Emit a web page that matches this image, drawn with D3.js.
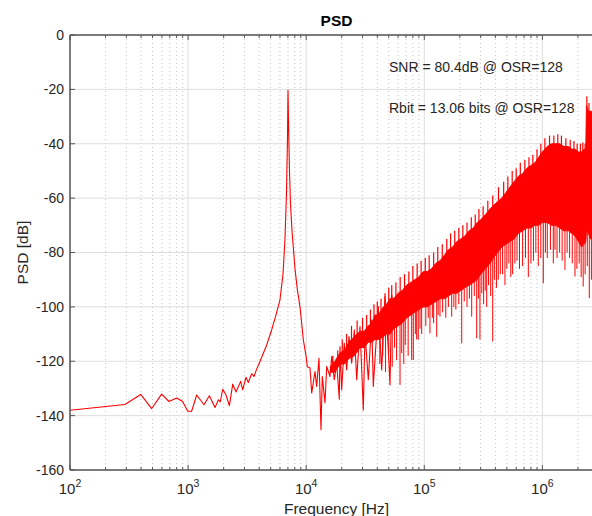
<!DOCTYPE html>
<html>
<head>
<meta charset="utf-8">
<script src="https://cdn.jsdelivr.net/npm/d3@7"></script>
<style>
  body { margin: 0; background: #fff; }
  text { font-family: "Liberation Sans", Arial, sans-serif; }
</style>
</head>
<body>
<svg id="chart" width="592" height="516"></svg>
<script>
// low-frequency trace, tone peak and the start of the shaped noise (Hz, dB)
var traceFreq = [100, 292, 397, 492, 597, 689, 800, 899, 993, 1071, 1183, 1364, 1513, 1691, 1803, 1875,
  1964, 2094, 2236, 2388, 2546, 2788, 2898, 3091, 3235, 3456, 3614, 3808, 4061, 4630, 5107,
  5546, 5998, 6363, 6613, 6810, 6944, 7013, 7109, 7221, 7362, 7583, 7806, 8035, 8440, 8863,
  9450, 9988, 10217, 10772, 11132, 11870, 12270, 12834, 13346, 13690, 14430, 14918, 15906,
  16443, 17297, 18130, 19070, 19330, 19980, 21010, 22030, 23040, 24290, 25550, 26770, 28550,
  30450, 31470, 33570, 35850, 37000, 40790, 43580, 46480, 49580, 51230, 52970, 55720];
var traceDb = [-138.0, -135.9, -132.2, -137.4, -132.1, -134.8, -133.5, -134.8, -138.4, -138.4, -132.4,
  -136.0, -132.7, -137.0, -134.2, -134.9, -130.3, -132.4, -136.3, -128.4, -131.3, -127.4, -130.5,
  -125.9, -127.8, -124.6, -125.6, -122.9, -120.1, -114.0, -108.4,
  -103, -97.4, -88, -75, -58, -38, -20.3, -36, -50, -62, -72, -79, -86, -94, -100,
  -112, -118.3, -122, -122.5, -131.7, -123.8, -129.3, -118.9, -145.2, -125.6, -135.3, -121.9,
  -125.6, -118.3, -126.8, -120.7, -134, -114.6, -130.5, -113.4, -123.2, -110.9, -120.7, -108.5,
  -126.8, -107.2, -137.9, -109.7, -126.8, -104.8, -129.3, -99.9, -123.2, -96.2, -115.8, -128.7,
  -95.6, -102.3];

// dense noise band: upper and lower edge (Hz, dB)
var bandFreq = [16000, 17500, 19300, 21000, 23000, 25500, 28500, 31000, 33500, 36000, 38200, 41000,
  45000, 48000, 51200, 55000, 60000, 65000, 71000, 77000, 83000, 90000, 98000, 106000, 115000,
  125000, 136000, 148000, 160000, 174000, 188000, 204000, 220000, 240000, 260000, 280000, 300000,
  330000, 360000, 400000, 452000, 490000, 530000, 575000, 625000, 680000, 740000, 800000, 865000,
  930000, 1000000, 1100000, 1200000, 1300000, 1400000, 1520000, 1656000, 1780000, 1900000,
  2020000, 2150000, 2250000, 2330000, 2360000, 2450000, 2550000, 3300000];
var bandTop = [-122, -120, -117, -116, -113, -111, -109, -109, -107, -106, -103, -103,
  -100, -99, -97, -97, -95, -94, -92, -91, -90, -89, -87, -87, -86,
  -84, -83, -81, -79, -78, -76, -75, -74, -72, -71, -69, -68,
  -66, -64, -62, -60, -58, -56, -54, -52, -51, -49, -48, -47,
  -45, -43, -41, -40, -40, -40, -41, -41, -42, -42,
  -43, -43, -42, -42, -26, -28, -28, -30];
var bandBot = [-124, -124, -121, -121, -119, -118, -115, -115, -113, -113, -112, -112,
  -111, -110, -110, -108, -107, -106, -104, -103, -102, -101, -100, -100, -99,
  -98, -97, -97, -96, -95, -95, -94, -93, -92, -91, -90, -88,
  -86, -84, -81, -78, -77, -76, -75, -73, -72, -71, -71, -70,
  -70, -69, -69, -70, -70, -71, -72, -72, -73, -74,
  -76, -78, -77, -76, -72, -73, -75, -75];

// downward spikes below the band (Hz, dB)
var spikeFreq = [42000, 44500, 47000, 50000, 53500, 56000, 58300, 62300, 64400, 67000, 69000, 73000,
  78200, 80700, 84000, 86200, 88900, 92000, 95000, 103000, 108000, 111700, 117000, 120000, 127400,
  131000, 135800, 143000, 152000, 160000, 170600, 178000, 185000, 196000, 207400, 218000, 230000,
  241000, 252000, 265000, 277800, 287000, 296000, 307000, 318000, 328000, 337600, 350000, 365000,
  379600, 392000, 408000, 423000, 440000, 460000, 482000, 500000, 520000, 540000, 560000, 585000,
  610000, 640000, 680000, 720000, 760000, 800000, 840000, 880000, 923000, 970000, 1018000, 1060000,
  1100000, 1170000, 1237000, 1278000, 1330000, 1400000, 1470000, 1553000, 1620000, 1700000, 1790000,
  1888000, 1960000, 2050000, 2130000, 2215000, 2300000, 2400000, 2495000, 2600000];
var spikeDb = [-121, -118, -124, -117, -122, -115, -119.5, -128.7, -117, -121, -114, -118,
  -119.5, -119.5, -110, -112, -112, -108, -110, -107, -104, -109.7, -104, -106, -111,
  -103, -103.6, -102, -104, -100, -103.6, -100, -101, -99, -113.4, -98, -100,
  -97, -103.6, -96, -111.5, -97, -112, -95, -99, -94, -100, -92, -96,
  -112.7, -90, -93, -90, -88, -88, -92, -86, -84, -89, -88, -84,
  -83, -86, -85, -82, -89, -84, -83, -80, -85, -82, -91.3, -80,
  -82, -79, -84, -79, -82, -80, -83, -86.4, -80, -82, -84,
  -88.8, -86, -84, -89, -92.5, -88, -85, -96.8, -90];

// upward tips above the band (Hz, dB)
var tipFreq = [16800, 18500, 20200, 22000, 24200, 27000, 30000, 32500, 35000, 37500, 40000, 43000,
  46500, 50000, 53000, 57500, 62500, 68000, 74000, 80000, 87000, 94000, 102000, 110000, 120000,
  130000, 142000, 155000, 167000, 181000, 196000, 212000, 230000, 250000, 270000, 290000, 315000,
  345000, 380000, 425000, 470000, 510000, 555000, 600000, 650000, 710000, 770000, 830000, 900000,
  970000, 1050000, 1150000, 1250000, 1350000, 1450000, 1580000, 1720000, 1850000, 1970000, 2100000,
  2200000, 2300000, 2380000, 2480000];
var tipDb = [-118, -116, -112, -110, -107, -105, -104, -103, -101, -99, -98, -97,
  -95, -93, -92, -91, -89, -88, -87, -85, -84, -83, -82, -81, -80,
  -78, -77, -75, -73, -72, -71, -70, -69, -67, -66, -64, -63,
  -61, -59, -56, -54, -52, -50, -49, -47, -46, -45, -44, -42,
  -40, -38, -37, -37, -36.5, -37, -38, -38.5, -39, -40, -40,
  -39.5, -40, -22.5, -25];

var xTicks = [1e2, 1e3, 1e4, 1e5, 1e6];
var yTicks = [-160, -140, -120, -100, -80, -60, -40, -20, 0];

var svg = d3.select("#chart");
var pL = 70, pR = 603, pT = 35, pB = 470;

var x = d3.scaleLog().domain([100, 3.26e6]).range([pL, pR]);
var y = d3.scaleLinear().domain([-160, 0]).range([pB, pT]);

var minorTicks = [];
for (var d = 2; d <= 6; d++) {
  for (var k = 2; k <= 9; k++) {
    var f = k * Math.pow(10, d);
    if (f < x.domain()[1]) minorTicks.push(f);
  }
}

svg.append("defs").append("clipPath").attr("id", "plot")
  .append("rect").attr("x", pL).attr("y", pT)
  .attr("width", pR - pL).attr("height", pB - pT);

// grid
var grid = svg.append("g");
grid.selectAll(null).data(minorTicks).enter().append("line")
  .attr("x1", function(d) { return x(d); }).attr("x2", function(d) { return x(d); })
  .attr("y1", pT).attr("y2", pB)
  .attr("stroke", "#c4c4c4").attr("stroke-width", 1).attr("stroke-dasharray", "1,3");
grid.selectAll(null).data(xTicks).enter().append("line")
  .attr("x1", function(d) { return x(d); }).attr("x2", function(d) { return x(d); })
  .attr("y1", pT).attr("y2", pB)
  .attr("stroke", "#dedede").attr("stroke-width", 1);
grid.selectAll(null).data(yTicks).enter().append("line")
  .attr("x1", pL).attr("x2", pR)
  .attr("y1", function(d) { return y(d); }).attr("y2", function(d) { return y(d); })
  .attr("stroke", "#dedede").attr("stroke-width", 1);

// data
var plot = svg.append("g").attr("clip-path", "url(#plot)");
var band = bandFreq.map(function(f, i) { return { f: f, top: bandTop[i], bot: bandBot[i] }; });
var botAt = d3.scaleLog().domain(bandFreq).range(bandBot);
var topAt = d3.scaleLog().domain(bandFreq).range(bandTop);

plot.selectAll(null).data(spikeFreq).enter().append("line")
  .attr("x1", function(d) { return x(d); }).attr("x2", function(d) { return x(d); })
  .attr("y1", function(d, i) { return y(spikeDb[i]); })
  .attr("y2", function(d) { return y(botAt(d)); })
  .attr("stroke", "#ff0000").attr("stroke-width", 1);

plot.selectAll(null).data(tipFreq).enter().append("line")
  .attr("x1", function(d) { return x(d); }).attr("x2", function(d) { return x(d); })
  .attr("y1", function(d, i) { return y(tipDb[i]); })
  .attr("y2", function(d) { return y(topAt(d)) + 1; })
  .attr("stroke", "#ff0000").attr("stroke-width", 1.2);

plot.append("path").datum(band)
  .attr("fill", "#ff0000").attr("stroke", "#ff0000").attr("stroke-width", 1)
  .attr("d", d3.area()
    .x(function(d) { return x(d.f); })
    .y0(function(d) { return y(d.bot); })
    .y1(function(d) { return y(d.top); }));

plot.append("path").datum(traceFreq)
  .attr("fill", "none").attr("stroke", "#ff0000").attr("stroke-width", 1.1)
  .attr("stroke-linejoin", "round")
  .attr("d", d3.line()
    .x(function(d) { return x(d); })
    .y(function(d, i) { return y(traceDb[i]); }));

// axes frame and ticks
var ax = svg.append("g").attr("stroke", "#555");
ax.append("line").attr("x1", pL).attr("x2", pR).attr("y1", pB).attr("y2", pB).attr("stroke-width", 1.5);
ax.append("line").attr("x1", pL).attr("x2", pR).attr("y1", pT).attr("y2", pT).attr("stroke-width", 1.5);
ax.append("line").attr("x1", pL).attr("x2", pL).attr("y1", pT).attr("y2", pB).attr("stroke-width", 1.5);

[[xTicks, 5], [minorTicks, 3]].forEach(function(t) {
  ax.selectAll(null).data(t[0]).enter().append("line")
    .attr("x1", function(d) { return x(d); }).attr("x2", function(d) { return x(d); })
    .attr("y1", pB).attr("y2", pB - t[1]);
  ax.selectAll(null).data(t[0]).enter().append("line")
    .attr("x1", function(d) { return x(d); }).attr("x2", function(d) { return x(d); })
    .attr("y1", pT).attr("y2", pT + t[1]);
});
ax.selectAll(null).data(yTicks).enter().append("line")
  .attr("x1", pL).attr("x2", pL + 5)
  .attr("y1", function(d) { return y(d); }).attr("y2", function(d) { return y(d); });

// tick labels
svg.selectAll(null).data(yTicks).enter().append("text")
  .attr("x", pL - 6).attr("y", function(d) { return y(d); })
  .attr("dy", "0.35em").attr("text-anchor", "end")
  .attr("font-size", 14).attr("fill", "#262626")
  .text(function(d) { return d; });

var xl = svg.selectAll(null).data(xTicks).enter().append("text")
  .attr("x", function(d) { return x(d); }).attr("y", 494)
  .attr("text-anchor", "middle").attr("font-size", 15).attr("fill", "#262626");
xl.append("tspan").text("10");
xl.append("tspan").attr("dy", -7).attr("font-size", 10.5)
  .text(function(d) { return Math.round(Math.log10(d)); });

// titles
svg.append("text").attr("x", 336.5).attr("y", 26).attr("text-anchor", "middle")
  .attr("font-size", 15.5).attr("font-weight", "bold").attr("fill", "#000").text("PSD");
svg.append("text").attr("x", 336.5).attr("y", 514).attr("text-anchor", "middle")
  .attr("font-size", 15.5).attr("fill", "#262626").text("Frequency [Hz]");
svg.append("text").attr("transform", "translate(28,252.5) rotate(-90)")
  .attr("text-anchor", "middle").attr("font-size", 15.5).attr("fill", "#262626").text("PSD [dB]");

// annotations
svg.append("text").attr("x", 389).attr("y", 72).attr("font-size", 14).attr("fill", "#262626")
  .text("SNR = 80.4dB @ OSR=128");
svg.append("text").attr("x", 389).attr("y", 113).attr("font-size", 14).attr("fill", "#262626")
  .text("Rbit = 13.06 bits @ OSR=128");
</script>
</body>
</html>
